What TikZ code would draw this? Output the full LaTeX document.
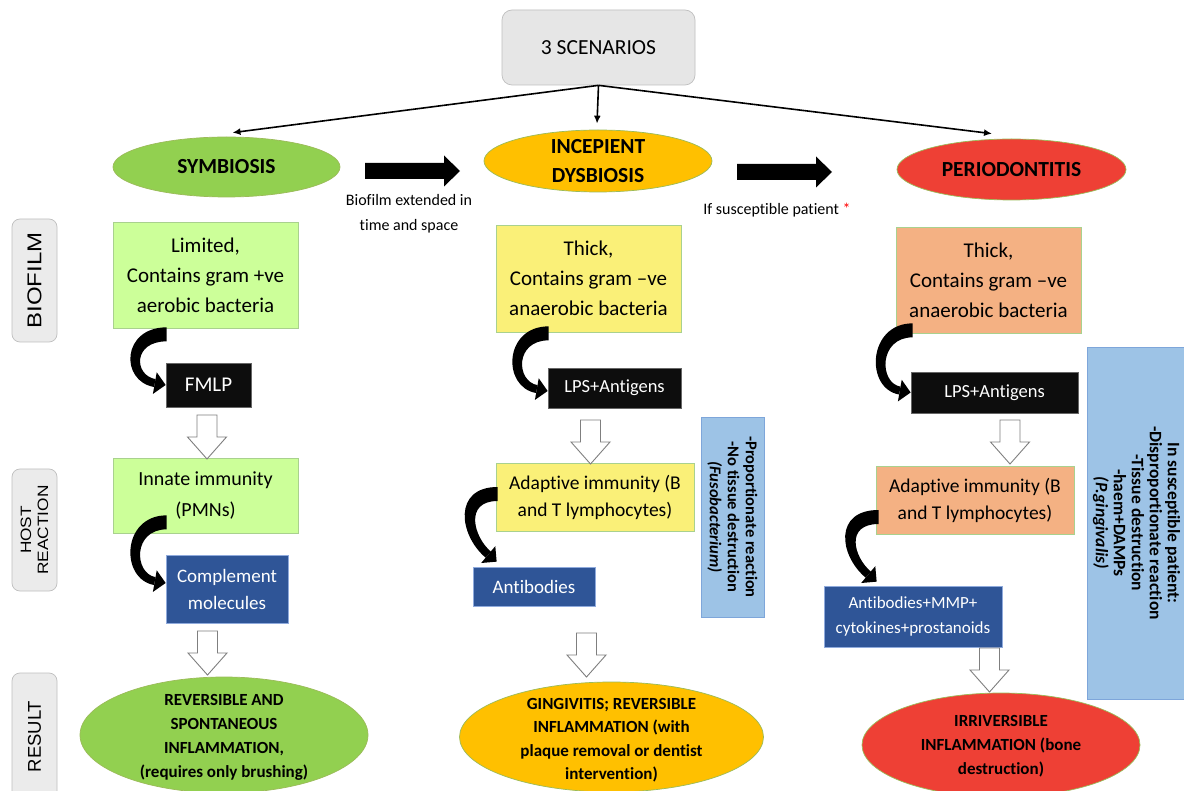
\documentclass[tikz,border=0pt]{standalone}
\usepackage{fontspec}
\setmainfont{Carlito}[Ligatures=NoCommon]
\newfontfamily\labfont{Liberation Sans}
\newfontfamily\labfontw[FakeStretch=1.2]{Liberation Sans}
\newfontfamily\labfonth[FakeStretch=1.15]{Liberation Sans}
\usetikzlibrary{shapes.geometric,arrows.meta,calc}
\definecolor{scfill}{HTML}{E6E6E6}
\definecolor{scbord}{HTML}{BFBFBF}
\definecolor{symg}{HTML}{92D050}
\definecolor{incy}{HTML}{FFC000}
\definecolor{perr}{HTML}{EE4035}
\definecolor{lgreen}{HTML}{CCFF99}
\definecolor{lyell}{HTML}{FAF078}
\definecolor{salm}{HTML}{F4B183}
\definecolor{dblue}{HTML}{2F5597}
\definecolor{infofill}{HTML}{9DC3E6}
\definecolor{infobord}{HTML}{7EA6DA}
\definecolor{bordg}{HTML}{A9D18E}
\definecolor{elbord}{HTML}{9BBB59}
\definecolor{sidefill}{HTML}{EBEBEB}
\definecolor{sidebord}{HTML}{BFBFBF}
\definecolor{hgray}{HTML}{7F7F7F}
\definecolor{bluebord}{HTML}{8FAADC}
\newcommand\fsz[2]{\fontsize{#1}{#2}\selectfont}
\newcommand\curlarr[3]{%
  \coordinate (cb) at ($(#2)+(180+#3:11)$);
  \fill[black] ($(#1)+(0,-7)$) .. controls +(-45,0) and +(180+#3:35) .. ($(cb)+(90+#3:4)$)
     -- ($(cb)+(-90+#3:4)$) .. controls +(180+#3:22) and +(-34,0) .. ($(#1)+(0,7)$) -- cycle;
  \fill[black] (#2) -- ($(cb)+(90+#3:11)$) -- ($(cb)+(-90+#3:11)$) -- cycle;
}
\begin{document}
\begin{tikzpicture}[x=1pt,y=-1pt,
  box/.style={draw=bordg, line width=0.7pt, inner sep=0pt, align=center},
  dim/.style 2 args={minimum width=#1pt, minimum height=#2pt},
  ell/.style={ellipse, draw=elbord, line width=0.7pt, inner sep=0pt},
  txt/.style={inner sep=0pt, align=center},
  side/.style={draw=sidebord, fill=sidefill, rounded corners=8pt, line width=0.7pt, inner sep=0pt, align=center, rotate=90},
  blk/.style={box, fill=black!95, draw=black!60, text=white},
  blu/.style={box, fill=dblue, draw=bluebord, text=white},
  info/.style={box, fill=infofill, draw=infobord, rotate=-90},
  fork/.style={line width=1.6pt, -{Latex[length=8pt,width=7pt]}},
  hollow/.pic={\draw[draw=hgray, fill=white, line width=0.9pt] (-10,0) -- (10,0) -- (10,22) -- (19.5,22) -- (0,44) -- (-19.5,22) -- (-10,22) -- cycle;},
  blockarr/.pic={\fill[black] (0,-8) -- (79,-8) -- (79,-15.5) -- (95,0) -- (79,15.5) -- (79,8) -- (0,8) -- cycle;}]
\fill[white] (0,0) rectangle (1184,791);
\path[use as bounding box] (0,0) rectangle (1184,791);

% top
\node[box, dim={193}{75}, fill=scfill, draw=scbord, rounded corners=10pt, font={\fsz{21.5}{25}}] (sc) at (598.5,47.5) {3 SCENARIOS};

\node[ell, dim={227}{60}, fill=symg] (sym) at (226.5,167) {};
\node[txt, font={\fsz{21.5}{25}\bfseries}] (symt) at (sym.center) {SYMBIOSIS};
\node[ell, dim={228}{62}, fill=incy] (inc) at (598,161) {};
\node[txt, font={\fsz{21.5}{29}\bfseries}] (inct) at (inc.center) {INCEPIENT\\DYSBIOSIS};
\node[ell, dim={229}{61}, fill=perr] (per) at (1011.5,169.5) {};
\node[txt, font={\fsz{21.5}{25}\bfseries}] (pert) at (per.center) {PERIODONTITIS};

\coordinate (t1) at ($(sym.north)+(6,-4)$);
\coordinate (t2) at ($(inc.north)+(-1,-6)$);
\coordinate (t3) at ($(per.north)+(-19.5,-5)$);
\draw[fork] (sc.south) -- (t1);
\draw[fork] (sc.south) -- (t2);
\draw[fork] (sc.south) -- (t3);

\pic (ba1) at (365,171) {blockarr};
\pic (ba2) at (737,172) {blockarr};
\node[txt, font={\fsz{16}{25}}] (ann1) at (409,214) {Biofilm extended in\\time and space};
\node[txt, font={\fsz{16}{20}}] (ann2) at (777,210) {If susceptible patient \textcolor{red}{*}};

% side labels
\node[side, dim={123}{45}, font={\labfontw\fsz{20}{24}}] (bio) at (34.5,280.5) {BIOFILM};
\node[side, dim={122}{45}, font={\labfonth\fsz{15}{17}}] (host) at (34.5,530) {HOST\\REACTION};
\node[side, dim={127}{45}, font={\labfont\fsz{18.5}{22}}] (res) at (34.5,736.5) {RESULT};

% column 1
\node[box, dim={185}{106}, fill=lgreen, font={\fsz{21}{30}}] (lim) at (205.5,275) {Limited,\\Contains gram +ve\\aerobic bacteria};
\node[blk, dim={85}{44}, font={\fsz{21}{25}}] (fmlp) at (208.5,385) {FMLP};
\node[box, dim={185}{75}, fill=lgreen, font={\fsz{20}{31}}] (inn) at (205.5,495.5) {Innate immunity\\(PMNs)};
\node[blu, dim={122}{68}, font={\fsz{19}{27}}] (comp) at (227,589) {Complement\\molecules};
\node[ell, dim={288}{116}, fill=symg] (res1) at (224,735) {};
\node[txt, font={\fsz{17}{24}\bfseries}] (res1t) at (224,737) {REVERSIBLE AND\\SPONTANEOUS\\INFLAMMATION,\\(requires only brushing)};

% column 2
\node[box, dim={185}{107}, fill=lyell, font={\fsz{21}{30}}] (thk2) at (588.5,278.5) {Thick,\\Contains gram –ve\\anaerobic bacteria};
\node[blk, dim={133}{40}, font={\fsz{18.5}{22}}] (lps2) at (614.5,388) {LPS+Antigens};
\node[box, dim={198}{68}, fill=lyell, font={\fsz{19.5}{27}}] (ad2) at (595,497) {Adaptive immunity (B\\and T lymphocytes)};
\node[blu, dim={122}{39}, font={\fsz{19}{23}}] (ab2) at (534,586.5) {Antibodies};
\node[info, dim={200}{63}, font={\fsz{16.5}{18}\bfseries}] (inf2) at (732.5,517) {-Proportionate reaction\\-No tissue destruction\\\textit{(Fusobacterium)}};
\node[ell, dim={304}{110}, fill=incy] (res2) at (611.5,737) {};
\node[txt, font={\fsz{17}{23.5}\bfseries}] (res2t) at (611.5,740) {GINGIVITIS; REVERSIBLE\\INFLAMMATION (with\\plaque removal or dentist\\intervention)};

% column 3
\node[box, dim={185}{106}, fill=salm, font={\fsz{21}{30}}] (thk3) at (988.5,280) {Thick,\\Contains gram –ve\\anaerobic bacteria};
\node[blk, dim={167}{41}, font={\fsz{18.5}{22}}] (lps3) at (994.5,392.5) {LPS+Antigens};
\node[box, dim={198}{68}, fill=salm, font={\fsz{19.5}{27}}] (ad3) at (975,500) {Adaptive immunity (B\\and T lymphocytes)};
\node[blu, dim={178}{61}, font={\fsz{17}{25}}] (abm) at (913,616.5) {Antibodies+MMP+\\cytokines+prostanoids};
\node[info, dim={352}{99}, font={\fsz{17.5}{18}\bfseries}] (inf3) at (1136.5,523) {In susceptible patient:\\-Disproportionate reaction\\-Tissue destruction\\-haem+DAMPs\\\textit{(P.gingivalis)}};
\node[ell, dim={278}{104}, fill=perr] (res3) at (1001,745) {};
\node[txt, font={\fsz{17}{24}\bfseries}] (res3t) at (1001,746) {IRRIVERSIBLE\\INFLAMMATION (bone\\destruction)};

% hollow arrows
\pic (h1) at (207,415) {hollow};
\pic (h2) at (207.5,631) {hollow};
\pic (h3) at (590.5,420) {hollow};
\pic (h4) at (586.5,633) {hollow};
\pic (h5) at (1010,420) {hollow};
\pic (h6) at (989.5,648) {hollow};

% curled arrows
\coordinate (s1) at ($(lim.south west)+(54,6)$);
\coordinate (e1) at (fmlp.west);
\curlarr{s1}{e1}{10}
\coordinate (s2) at ($(inn.south west)+(54,-11)$);
\coordinate (e2) at ($(comp.west)+(0,-6)$);
\curlarr{s2}{e2}{10}
\coordinate (s3) at ($(thk2.south west)+(53,1)$);
\coordinate (e3) at ($(lps2.west)+(0,3)$);
\curlarr{s3}{e3}{10}
\coordinate (s4) at ($(ad2.west)+(2,-3)$);
\coordinate (e4) at ($(ab2.north west)+(24,-5)$);
\curlarr{s4}{e4}{40}
\coordinate (s5) at ($(thk3.south west)+(17,-3)$);
\coordinate (e5) at (lps3.west);
\curlarr{s5}{e5}{10}
\coordinate (s6) at ($(ad3.west)+(3,17)$);
\coordinate (e6) at ($(abm.north west)+(53,-4)$);
\curlarr{s6}{e6}{40}
\end{tikzpicture}
\end{document}
